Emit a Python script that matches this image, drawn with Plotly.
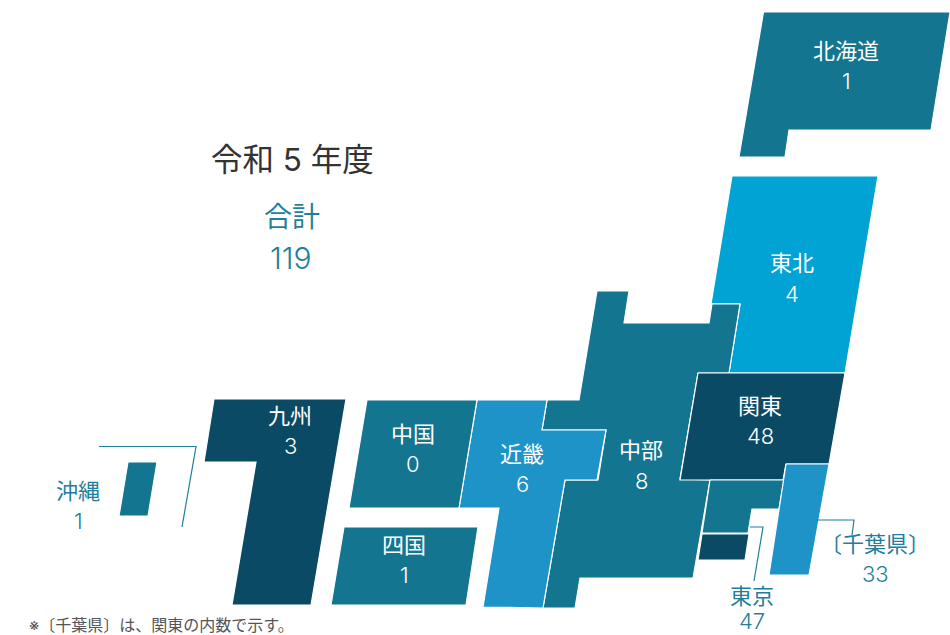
import plotly.graph_objects as go

# Awards per region, fiscal Reiwa 5
regions = ["北海道", "東北", "関東", "中部", "近畿", "中国", "四国", "九州", "沖縄"]
counts = [1, 4, 48, 8, 6, 0, 1, 3, 1]
sub_regions = ["東京", "〔千葉県〕"]
sub_counts = [47, 33]
total_label = "合計"
total_count = 119
heading = "令和 5 年度"
footnote = "※〔千葉県〕は、関東の内数で示す。"

TEAL = "#13758f"
SKY = "#00a3d3"
NAVY = "#0b4a64"
BLUE = "#1e93c8"
LEADER = "#1f7f9c"
FONT = "Inter, 'Noto Sans CJK JP', sans-serif"

# Tile outlines of the schematic map, in plot units
tiles = [
    ("北海道", TEAL, [(763.5, 12), (950, 12), (931, 130), (789, 130), (785, 157), (739, 157)]),
    ("東北", SKY, [(732, 176), (878, 176), (845, 373), (729, 373), (740, 304), (711, 304)]),
    ("中部", TEAL, [(597, 291), (629, 291), (624, 323), (709, 323), (712, 304), (740, 304),
                  (729, 373), (698, 373), (680, 479), (710, 480),
                  (693, 578), (580, 578), (575, 608), (543, 608), (565, 480), (598, 480),
                  (606, 430), (542, 430), (547, 400), (579, 400)]),
    ("関東", NAVY, [(698, 373), (845, 373), (829, 464), (786, 464), (783, 480), (680, 480)]),
    ("関東南部", TEAL, [(710, 480), (784, 480), (779, 509), (752, 509), (748, 533), (702, 533)]),
    ("東京", NAVY, [(702, 534), (749, 534), (745, 560), (698, 560)]),
    ("千葉県", BLUE, [(786, 464), (829, 464), (809, 575), (769, 575)]),
    ("近畿", BLUE, [(477, 400), (547, 400), (542, 430), (606, 430), (597, 480), (565, 480),
                  (543, 608), (483, 607), (499, 508), (459, 508)]),
    ("中国", TEAL, [(367, 400), (477, 400), (459, 508), (349, 508)]),
    ("四国", TEAL, [(344, 527), (478, 527), (466, 605), (331, 605)]),
    ("九州", NAVY, [(214, 399), (346, 399), (311, 605), (232, 605), (256, 462), (204, 462)]),
    ("沖縄", TEAL, [(128, 462), (157, 462), (148, 516), (119, 516)]),
]

leaders = [
    [(99, 446.5), (196, 446.5), (182, 527)],
    [(750, 527), (763, 527), (754, 581)],
    [(817, 520), (854, 520), (852, 535)],
]

# Label anchors: name line and value line for each region
label_pos = {
    "北海道": (846, 51, 81, "white"),
    "東北": (792, 263, 294, "white"),
    "関東": (760, 406, 436, "white"),
    "中部": (641, 450, 481, "white"),
    "近畿": (522, 454, 484, "white"),
    "中国": (413, 434, 464, "white"),
    "四国": (404, 545, 575, "white"),
    "九州": (290, 416, 446, "white"),
    "沖縄": (78, 491, 521, LEADER),
    "東京": (752, 596, 621, LEADER),
    "〔千葉県〕": (875, 544, 574, LEADER),
}

fig = go.Figure()

for name, color, outline in tiles:
    xs = [p[0] for p in outline] + [outline[0][0]]
    ys = [p[1] for p in outline] + [outline[0][1]]
    fig.add_trace(go.Scatter(x=xs, y=ys, mode="lines", fill="toself", fillcolor=color,
                             line=dict(color="white", width=1.2), name=name, hoverinfo="name"))

for path in leaders:
    fig.add_trace(go.Scatter(x=[p[0] for p in path], y=[p[1] for p in path], mode="lines",
                             line=dict(color=LEADER, width=1.2), hoverinfo="skip"))


def put(x, y, text, size, color, anchor="center", weight=400):
    fig.add_annotation(x=x, y=y, text=text, showarrow=False, xanchor=anchor, yanchor="middle",
                       font=dict(family=FONT, size=size, color=color, weight=weight))


for name, count in zip(regions + sub_regions, counts + sub_counts):
    x, y_name, y_value, color = label_pos[name]
    put(x, y_name, name, 22, color)
    put(x, y_value, str(count), 22, color, weight=300)

put(292, 159, heading, 31.5, "#333333")
put(292, 217, total_label, 28, LEADER)
put(291, 258, str(total_count), 30, LEADER, weight=300)
put(27, 625, footnote, 16, "#555555", anchor="left")

fig.update_layout(
    width=950, height=635, margin=dict(l=0, r=0, t=0, b=0),
    paper_bgcolor="white", plot_bgcolor="white", showlegend=False,
    xaxis=dict(range=[0, 950], visible=False, fixedrange=True),
    yaxis=dict(range=[635, 0], visible=False, fixedrange=True),
)

fig.write_html("out.html", config=dict(displayModeBar=False))
